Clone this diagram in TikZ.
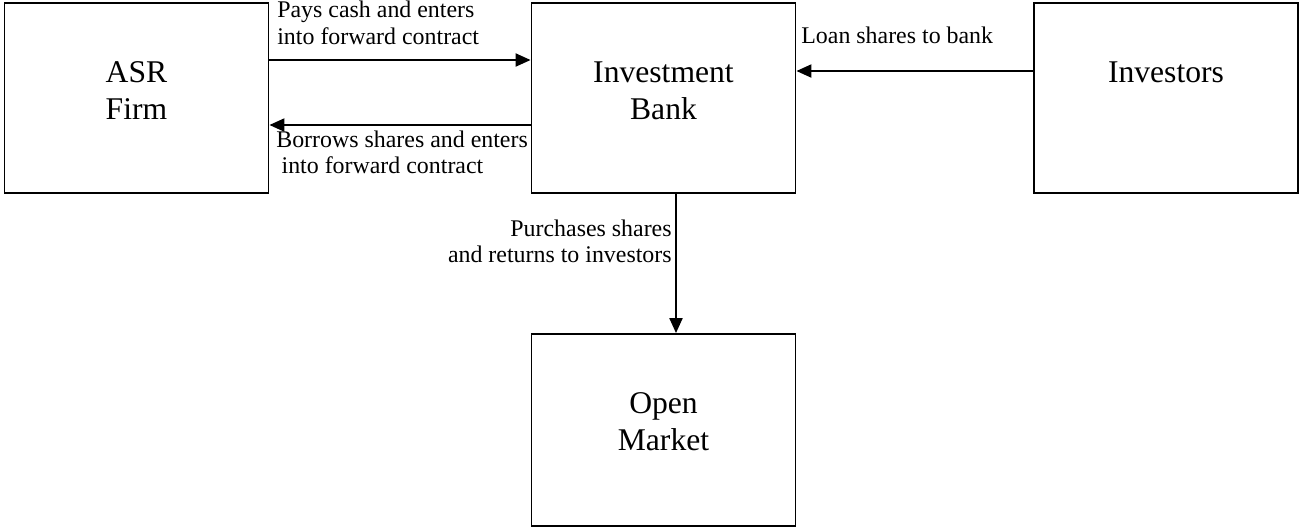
\documentclass[tikz,border=0pt]{standalone}
\usepackage{fontspec}
\setmainfont{Liberation Serif}
\usetikzlibrary{positioning,calc,arrows.meta}

\begin{document}
\begin{tikzpicture}[x=0.02cm, y=-0.02cm, ->, >={Triangle[length=8.5pt,width=7.4pt]}, every edge/.append style={line width=1.1pt}, party/.style={rectangle, draw, line width=1.1pt, minimum width=5.28cm, minimum height=3.8cm, inner sep=0pt}, title/.style={inner sep=0pt, align=center, font=\fontsize{18}{21}\selectfont}, note/.style={inner sep=0pt, font=\fontsize{13.6}{15}\selectfont}]

\useasboundingbox (0,0) rectangle (1299,529);

\node[party] (asr) at (136.5,98) {};
\node[party] (bank) at (663.5,98) {};
\node[party] (inv) at (1166,98) {};
\node[party, minimum height=3.84cm] (mkt) at (663.5,430) {};

\node[title, below=1.19cm of asr.north] (asrtext) {ASR\\Firm};
\node[title, below=1.19cm of bank.north] (banktext) {Investment\\Bank};
\node[title, below=1.19cm of inv.north] (invtext) {Investors};
\node[title, below=1.19cm of mkt.north] (mkttext) {Open\\Market};

\path
 (asr.east |- 0,60) edge (bank.west |- 0,60)
 (bank.west |- 0,125) edge (asr.east |- 0,125)
 (inv.west |- 0,71) edge (bank.east |- 0,71)
 (bank.south -| 676,0) edge (mkt.north -| 676,0);

\node[note, anchor=north west, align=left] (pays) at (277,1) {Pays cash and enters\\into forward contract};
\node[note, anchor=north west, align=left] (borrows) at (276,130.5) {Borrows shares and enters\\\hspace{3pt}into forward contract};
\node[note, anchor=north west] (loan) at (801,26.5) {Loan shares to bank};
\node[note, anchor=north east, align=right] (buys) at (672,219.5) {Purchases shares\\and returns to investors};
\end{tikzpicture}
\end{document}
